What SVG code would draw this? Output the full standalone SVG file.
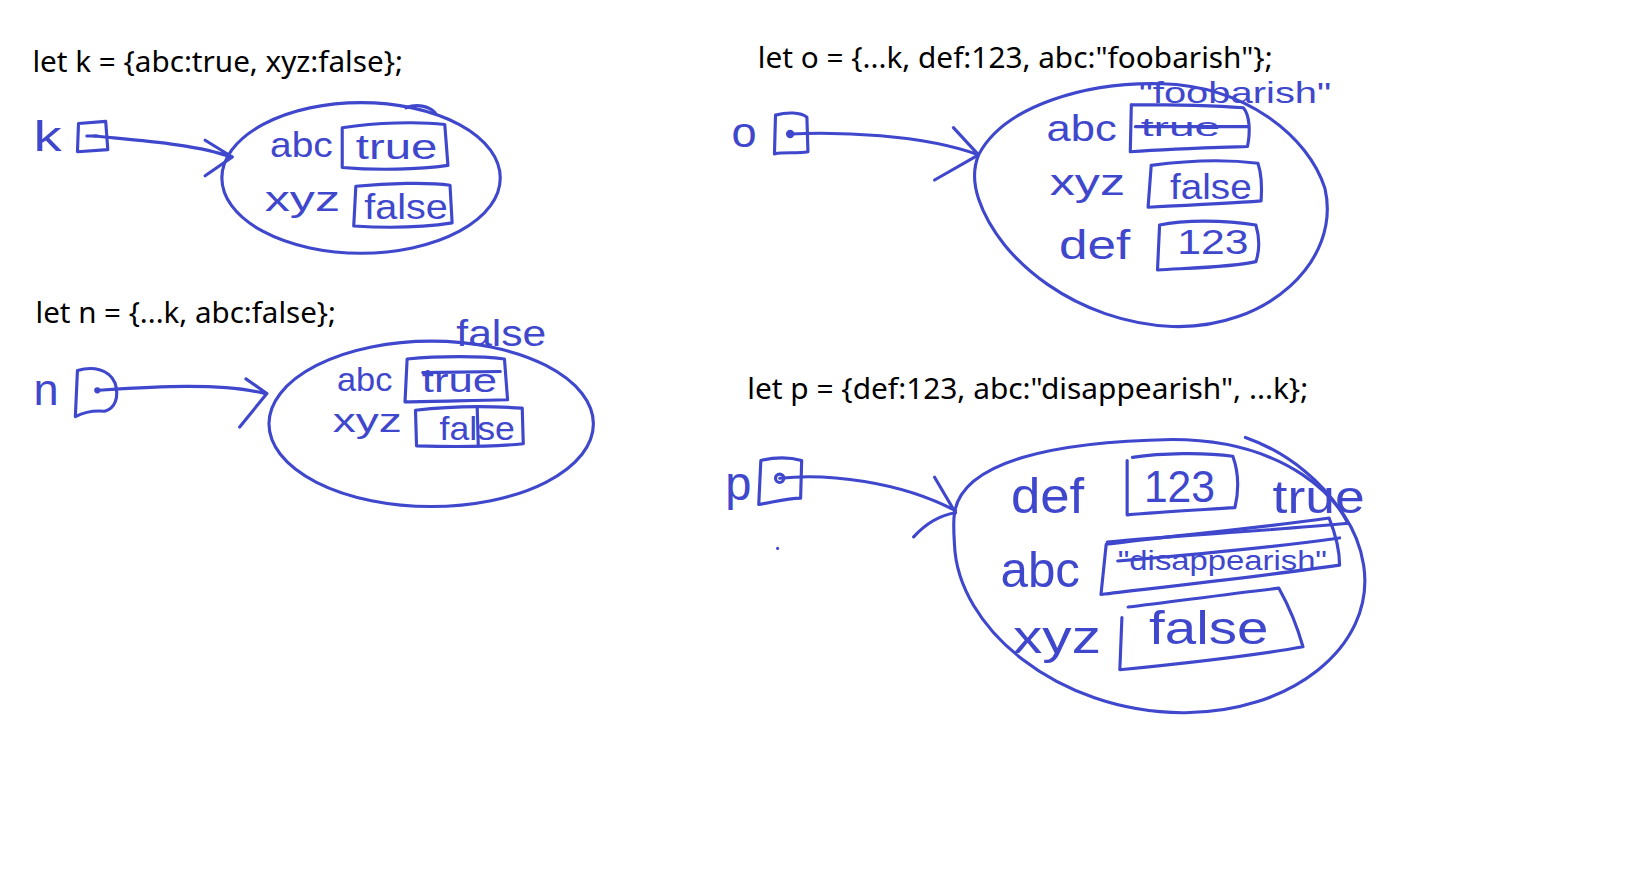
<svg xmlns="http://www.w3.org/2000/svg" width="1641" height="879" viewBox="0 0 1641 879">
<style>
.code{font-family:"Noto Sans","Open Sans","Liberation Sans",sans-serif;font-size:28px;fill:#000}
.ink{fill:none;stroke:#3f47cc;stroke-width:3;stroke-linecap:round;stroke-linejoin:round}
.hand{font-family:"Liberation Sans","DejaVu Sans",sans-serif;fill:#3f47cc}
.dot{fill:#3f47cc}
</style>
<rect width="1641" height="879" fill="#fff"/>
<g transform="scale(1.04656)">
<g id="code-text">
<text class="code" x="31" y="69" textLength="354" lengthAdjust="spacingAndGlyphs">let k = {abc:true, xyz:false};</text>
<text class="code" x="34" y="309" textLength="287" lengthAdjust="spacingAndGlyphs">let n = {...k, abc:false};</text>
<text class="code" x="724" y="65" textLength="492" lengthAdjust="spacingAndGlyphs">let o = {...k, def:123, abc:"foobarish"};</text>
<text class="code" x="714" y="381" textLength="536" lengthAdjust="spacingAndGlyphs">let p = {def:123, abc:"disappearish", ...k};</text>
</g>

<g id="var-k">
<text class="hand" x="32" y="144" font-size="40" textLength="27" lengthAdjust="spacingAndGlyphs">k</text>
<path class="ink" d="M75 118 L101 116 L103 143 L74 145 Z"/>
<path class="ink" d="M83 130 L93 130"/>
</g>
<g id="obj-k">
<ellipse class="ink" cx="345" cy="170" rx="133" ry="72"/>
<path class="ink" d="M388 103 C398 99 410 101 416 108"/>
<text class="hand" x="258" y="150" font-size="34" textLength="60" lengthAdjust="spacingAndGlyphs">abc</text>
<path class="ink" d="M327 122 C360 117 400 116 425 119 L428 158 C400 162 360 163 327 160 Z"/>
<text class="hand" x="340" y="152" font-size="34" textLength="78" lengthAdjust="spacingAndGlyphs">true</text>
<text class="hand" x="253" y="202" font-size="34" textLength="72" lengthAdjust="spacingAndGlyphs">xyz</text>
<path class="ink" d="M340 178 C370 175 410 174 430 177 L432 213 C400 218 370 218 338 216 Z"/>
<text class="hand" x="348" y="209" font-size="34" textLength="80" lengthAdjust="spacingAndGlyphs">false</text>
</g>

<g id="var-n">
<text class="hand" x="32" y="387" font-size="42" textLength="24" lengthAdjust="spacingAndGlyphs">n</text>
<path class="ink" d="M74 354 C88 350 104 352 110 366 C114 380 110 390 100 393 C90 392 80 394 72 398 Z"/>
<circle class="dot" cx="93" cy="373" r="3"/>
</g>
<g id="obj-n">
<ellipse class="ink" cx="412" cy="405" rx="155" ry="79"/>
<text class="hand" x="436" y="331" font-size="36" textLength="86" lengthAdjust="spacingAndGlyphs">false</text>
<text class="hand" x="322" y="374" font-size="32" textLength="53" lengthAdjust="spacingAndGlyphs">abc</text>
<path class="ink" d="M389 343 C420 340 460 340 482 343 L485 382 C450 383 420 383 387 384 Z"/>
<text class="hand" x="403" y="375" font-size="32" textLength="72" lengthAdjust="spacingAndGlyphs">true</text>
<path class="ink" d="M404 356 L478 355"/>
<text class="hand" x="318" y="413" font-size="32" textLength="66" lengthAdjust="spacingAndGlyphs">xyz</text>
<path class="ink" d="M397 392 C430 388 470 388 499 390 L500 424 C470 427 430 427 398 426 Z"/>
<path class="ink" d="M456 390 L457 426"/>
<text class="hand" x="420" y="420" font-size="32" textLength="72" lengthAdjust="spacingAndGlyphs">false</text>
</g>

<g id="var-o">
<text class="hand" x="699" y="140" font-size="40" textLength="24" lengthAdjust="spacingAndGlyphs">o</text>
<path class="ink" d="M741 110 C752 107 765 107 771 112 L772 145 C762 147 750 145 740 147 Z"/>
<circle class="dot" cx="755" cy="128" r="4"/>
</g>
<g id="obj-o">
<path class="ink" d="M935 148 C960 100 1040 78 1110 80 C1190 82 1250 130 1266 180 C1282 250 1210 315 1120 312 C1030 308 955 250 935 190 C929 172 931 158 935 148"/>
<text class="hand" x="1088" y="98" font-size="28" textLength="184" lengthAdjust="spacingAndGlyphs">"foobarish"</text>
<text class="hand" x="1000" y="135" font-size="36" textLength="67" lengthAdjust="spacingAndGlyphs">abc</text>
<path class="ink" d="M1081 100 L1080 145 C1120 142 1160 141 1192 140 C1195 125 1194 110 1188 103 C1150 100 1110 100 1081 100"/>
<text class="hand" x="1090" y="130" font-size="24" textLength="76" lengthAdjust="spacingAndGlyphs">true</text>
<path class="ink" d="M1085 121 L1192 121"/>
<text class="hand" x="1003" y="186" font-size="36" textLength="72" lengthAdjust="spacingAndGlyphs">xyz</text>
<path class="ink" d="M1100 158 L1097 198 C1140 196 1180 194 1205 192 C1206 178 1205 165 1202 156 C1170 152 1130 154 1100 158"/>
<text class="hand" x="1118" y="190" font-size="34" textLength="78" lengthAdjust="spacingAndGlyphs">false</text>
<text class="hand" x="1012" y="247" font-size="38" textLength="68" lengthAdjust="spacingAndGlyphs">def</text>
<path class="ink" d="M1108 215 L1106 258 C1140 256 1180 255 1200 250 C1204 238 1203 225 1200 215 C1170 210 1130 210 1108 215"/>
<text class="hand" x="1125" y="243" font-size="34" textLength="68" lengthAdjust="spacingAndGlyphs">123</text>
</g>

<g id="var-p">
<text class="hand" x="693" y="478" font-size="46" textLength="25" lengthAdjust="spacingAndGlyphs">p</text>
<path class="ink" d="M727 440 C740 437 755 437 766 440 L765 476 C752 476 738 480 725 482 Z"/>
<circle class="ink" cx="745" cy="457" r="4"/>
<circle class="dot" cx="743" cy="524" r="1.5"/>
</g>
<g id="obj-p">
<path class="ink" d="M912 490 C920 440 1010 422 1120 420 C1220 420 1292 470 1303 540 C1315 620 1230 682 1130 681 C1010 680 915 600 912 520 C911 505 911 497 912 490"/>
<path class="ink" d="M1190 418 C1230 432 1268 462 1288 500"/>
<text class="hand" x="966" y="490" font-size="48" textLength="70" lengthAdjust="spacingAndGlyphs">def</text>
<path class="ink" d="M1077 440 L1077 492 C1110 489 1150 487 1180 485 C1184 468 1183 450 1178 436 C1150 432 1110 433 1082 437"/>
<text class="hand" x="1093" y="480" font-size="42" textLength="68" lengthAdjust="spacingAndGlyphs">123</text>
<text class="hand" x="1216" y="490" font-size="44" textLength="88" lengthAdjust="spacingAndGlyphs">true</text>
<text class="hand" x="956" y="561" font-size="48" textLength="76" lengthAdjust="spacingAndGlyphs">abc</text>
<path class="ink" d="M1057 520 C1120 512 1200 505 1270 495 C1276 510 1280 525 1280 540 C1210 550 1120 560 1052 568 Z"/>
<path class="ink" d="M1058 518 C1120 512 1200 508 1288 500"/>
<text class="hand" x="1068" y="545" font-size="26" textLength="200" lengthAdjust="spacingAndGlyphs">"disappearish"</text>
<path class="ink" d="M1068 536 C1140 530 1210 524 1280 514"/>
<text class="hand" x="968" y="624" font-size="44" textLength="84" lengthAdjust="spacingAndGlyphs">xyz</text>
<path class="ink" d="M1072 590 L1070 640 C1120 635 1190 628 1245 618 C1240 600 1232 580 1222 562 C1170 568 1120 575 1078 580"/>
<text class="hand" x="1098" y="615" font-size="44" textLength="114" lengthAdjust="spacingAndGlyphs">false</text>
</g>

<g id="connectors">
<path class="ink" d="M90 130 C130 134 190 138 220 150 M196 134 L222 150 M196 168 L222 150"/>
<path class="ink" d="M93 373 C140 370 210 365 253 376 M235 362 L255 376 M229 408 L255 376"/>
<path class="ink" d="M755 128 C800 126 880 128 935 148 M911 122 L935 148 M893 172 L935 148"/>
<path class="ink" d="M745 457 C790 452 860 460 913 488 M893 456 L913 490 M873 513 C885 500 900 492 913 490"/>
</g>
</g>
</svg>
